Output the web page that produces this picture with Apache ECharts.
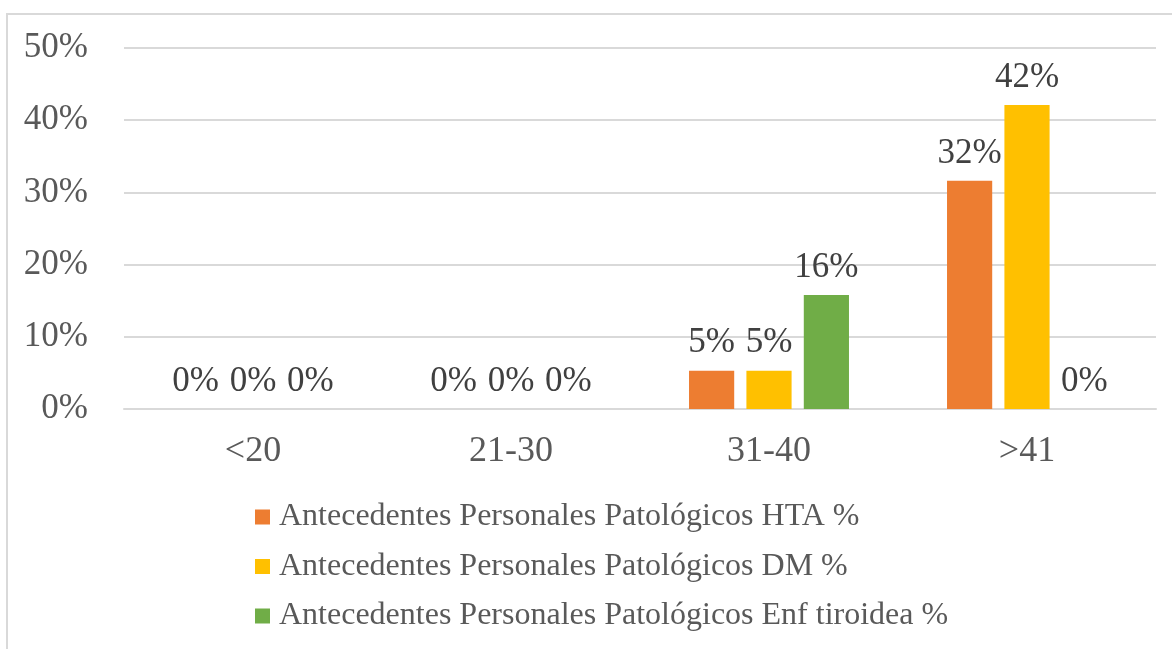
<!DOCTYPE html>
<html>
<head>
<meta charset="utf-8">
<script src="https://cdn.jsdelivr.net/npm/echarts@6/dist/echarts.min.js"></script>
<style>
  html, body { margin: 0; padding: 0; background: #fff; }
  .frame {
    position: absolute;
    left: 6px;
    top: 13px;
    width: 1200px;
    height: 700px;
    border-left: 2px solid #d9d9d9;
    border-top: 2px solid #d9d9d9;
  }
  #chart {
    position: absolute;
    left: 0;
    top: 0;
    width: 1172px;
    height: 649px;
  }
</style>
</head>
<body>
<div class="frame"></div>
<div id="chart"></div>
<script>
// datos
var categories = ['<20', '21-30', '31-40', '>41']
var seriesNames = [
  'Antecedentes Personales Patológicos HTA %',
  'Antecedentes Personales Patológicos DM %',
  'Antecedentes Personales Patológicos Enf tiroidea %'
]
var hta = [0, 0, 5.3, 31.6]
var dm = [0, 0, 5.3, 42.1]
var tiroidea = [0, 0, 15.8, 0]
var colors = ['#ED7D31', '#FFC000', '#70AD47']

var fontFamily = '"Liberation Serif", "Times New Roman", serif'

var chart = echarts.init(document.getElementById('chart'))

function makeSeries(name, data, color) {
  return {
    name: name,
    type: 'bar',
    data: data,
    barCategoryGap: '38%',
    barGap: '27%',
    itemStyle: { color: color },
    label: {
      show: true,
      position: 'top',
      distance: 10,
      fontFamily: fontFamily,
      fontSize: 35,
      color: '#404040',
      formatter: function (p) {
        return Math.round(p.value) + '%'
      }
    }
  }
}

var option = {
  animation: false,
  textStyle: { fontFamily: fontFamily },
  grid: {
    left: 124,
    right: 16,
    top: 48,
    bottom: 240,
    containLabel: false
  },
  legend: {
    orient: 'vertical',
    left: 250,
    top: 494,
    icon: 'rect',
    itemWidth: 15,
    itemHeight: 15,
    itemGap: 13.5,
    textStyle: {
      fontFamily: fontFamily,
      fontSize: 32,
      lineHeight: 36,
      color: '#595959',
      padding: [0, 0, 0, 4]
    },
    data: seriesNames
  },
  xAxis: {
    type: 'category',
    data: categories,
    axisLine: { lineStyle: { color: '#d9d9d9', width: 2 } },
    axisTick: { show: false },
    axisLabel: {
      fontFamily: fontFamily,
      fontSize: 36,
      color: '#595959',
      margin: 25
    }
  },
  yAxis: {
    type: 'value',
    min: 0,
    max: 50,
    interval: 10,
    axisLine: { show: false },
    axisTick: { show: false },
    splitLine: { lineStyle: { color: '#d9d9d9', width: 2 } },
    axisLabel: {
      fontFamily: fontFamily,
      fontSize: 35,
      color: '#595959',
      margin: 36,
      formatter: '{value}%'
    }
  },
  series: [
    makeSeries(seriesNames[0], hta, colors[0]),
    makeSeries(seriesNames[1], dm, colors[1]),
    makeSeries(seriesNames[2], tiroidea, colors[2])
  ]
}

chart.setOption(option)
</script>
</body>
</html>
